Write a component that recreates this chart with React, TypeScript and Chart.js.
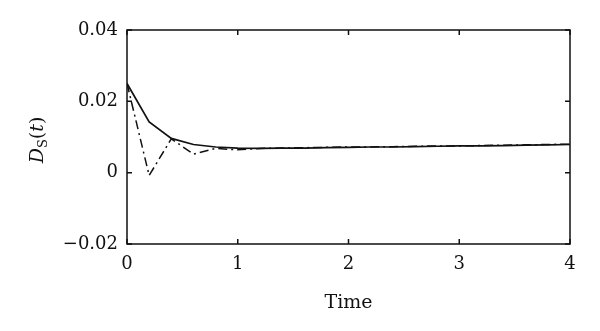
import React, { useEffect, useRef } from "react";
import { Chart, registerables } from "chart.js";

Chart.register(...registerables);

const timeValues = [0, 0.2, 0.4, 0.6, 0.8, 1.0, 1.2, 1.4, 1.6, 1.8, 2.0, 2.2, 2.4, 2.6, 2.8, 3.0, 3.2, 3.4, 3.6, 3.8, 4.0];
const solidSeries = [0.025, 0.0142, 0.0096, 0.0079, 0.0072, 0.0069, 0.0068, 0.0069, 0.0069, 0.0070, 0.0071, 0.0072, 0.0072, 0.0073, 0.0074, 0.0075, 0.0075, 0.0076, 0.0077, 0.0078, 0.0079];
const dashDotSeries = [0.025, -0.0008, 0.0095, 0.0052, 0.0068, 0.0064, 0.0068, 0.0069, 0.0070, 0.0071, 0.0072, 0.0072, 0.0073, 0.0074, 0.0075, 0.0075, 0.0076, 0.0077, 0.0078, 0.0079, 0.0080];
const xTicks = [0, 1, 2, 3, 4];
const yTicks = [-0.02, 0, 0.02, 0.04];
const yTickLabels = ["\u22120.02", "0", "0.02", "0.04"];
const xTitle = "Time";

const FONT = "'DejaVu Serif', 'Liberation Serif', serif";

const framePlugin = {
  id: "frame",
  afterDraw(chart: any) {
    const { ctx, chartArea } = chart;
    const { left, right, top, bottom } = chartArea;
    const xs = chart.scales.x;
    const ys = chart.scales.y;
    ctx.save();
    ctx.strokeStyle = "#111";
    ctx.lineWidth = 1.5;
    ctx.strokeRect(left, top, right - left, bottom - top);
    const tl = 5;
    ctx.beginPath();
    xTicks.forEach((v) => {
      const px = xs.getPixelForValue(v);
      ctx.moveTo(px, bottom);
      ctx.lineTo(px, bottom - tl);
      ctx.moveTo(px, top);
      ctx.lineTo(px, top + tl);
    });
    yTicks.forEach((v) => {
      const py = ys.getPixelForValue(v);
      ctx.moveTo(left, py);
      ctx.lineTo(left + tl, py);
      ctx.moveTo(right, py);
      ctx.lineTo(right - tl, py);
    });
    ctx.stroke();

    // x title
    ctx.fillStyle = "#111";
    ctx.font = `19px ${FONT}`;
    ctx.textAlign = "center";
    ctx.textBaseline = "middle";
    ctx.fillText(xTitle, (left + right) / 2, 303);

    // y title D_S(t)
    ctx.translate(36, (top + bottom) / 2 + 3);
    ctx.rotate(-Math.PI / 2);
    ctx.textAlign = "left";
    ctx.textBaseline = "alphabetic";
    const parts = [
      { t: "D", f: `italic 19px ${FONT}`, dy: 7 },
      { t: "S", f: `13px ${FONT}`, dy: 11 },
      { t: "(", f: `19px ${FONT}`, dy: 7 },
      { t: "t", f: `italic 19px ${FONT}`, dy: 7 },
      { t: ")", f: `19px ${FONT}`, dy: 7 },
    ];
    let total = 0;
    const widths = parts.map((p) => {
      ctx.font = p.f;
      const w = ctx.measureText(p.t).width;
      total += w;
      return w;
    });
    let x = -total / 2;
    parts.forEach((p, i) => {
      ctx.font = p.f;
      ctx.fillText(p.t, x, p.dy);
      x += widths[i];
    });
    ctx.restore();
  },
};

export default function App() {
  const ref = useRef<HTMLCanvasElement | null>(null);
  useEffect(() => {
    document.body.style.margin = "0";
    const canvas = ref.current;
    if (!canvas) return;
    const chart = new Chart(canvas, {
      type: "line",
      data: {
        datasets: [
          {
            data: timeValues.map((t, i) => ({ x: t, y: solidSeries[i] })),
            borderColor: "#111",
            borderWidth: 1.7,
            pointRadius: 0,
            tension: 0,
          },
          {
            data: timeValues.map((t, i) => ({ x: t, y: dashDotSeries[i] })),
            borderColor: "#111",
            borderWidth: 1.5,
            borderDash: [9, 4, 2, 4],
            pointRadius: 0,
            tension: 0,
          },
        ],
      },
      options: {
        animation: false,
        responsive: false,
        maintainAspectRatio: false,
        layout: { padding: { left: 0, right: 30, top: 30, bottom: 0 } },
        plugins: { legend: { display: false }, tooltip: { enabled: false } },
        scales: {
          x: {
            type: "linear",
            min: 0,
            max: 4,
            grid: { display: false, drawTicks: false },
            border: { display: false },
            afterBuildTicks: (s: any) => {
              s.ticks = xTicks.map((v) => ({ value: v }));
            },
            afterFit: (s: any) => {
              s.height = 87;
            },
            ticks: {
              padding: 10,
              color: "#111",
              font: { family: FONT, size: 18 },
              maxRotation: 0,
              callback: (v: any) => String(v),
            },
          },
          y: {
            type: "linear",
            min: -0.02,
            max: 0.04,
            grid: { display: false, drawTicks: false },
            border: { display: false },
            afterBuildTicks: (s: any) => {
              s.ticks = yTicks.map((v) => ({ value: v }));
            },
            afterFit: (s: any) => {
              s.width = 127;
            },
            ticks: {
              padding: 9,
              color: "#111",
              font: { family: FONT, size: 18 },
              callback: (v: any) => {
                const i = yTicks.findIndex((t) => Math.abs(t - v) < 1e-9);
                return i >= 0 ? yTickLabels[i] : "";
              },
            },
          },
        },
      },
      plugins: [framePlugin],
    } as any);
    return () => chart.destroy();
  }, []);
  return (
    <div style={{ width: 600, height: 331, background: "#fff" }}>
      <canvas ref={ref} width={600} height={331} style={{ display: "block" }} />
    </div>
  );
}
